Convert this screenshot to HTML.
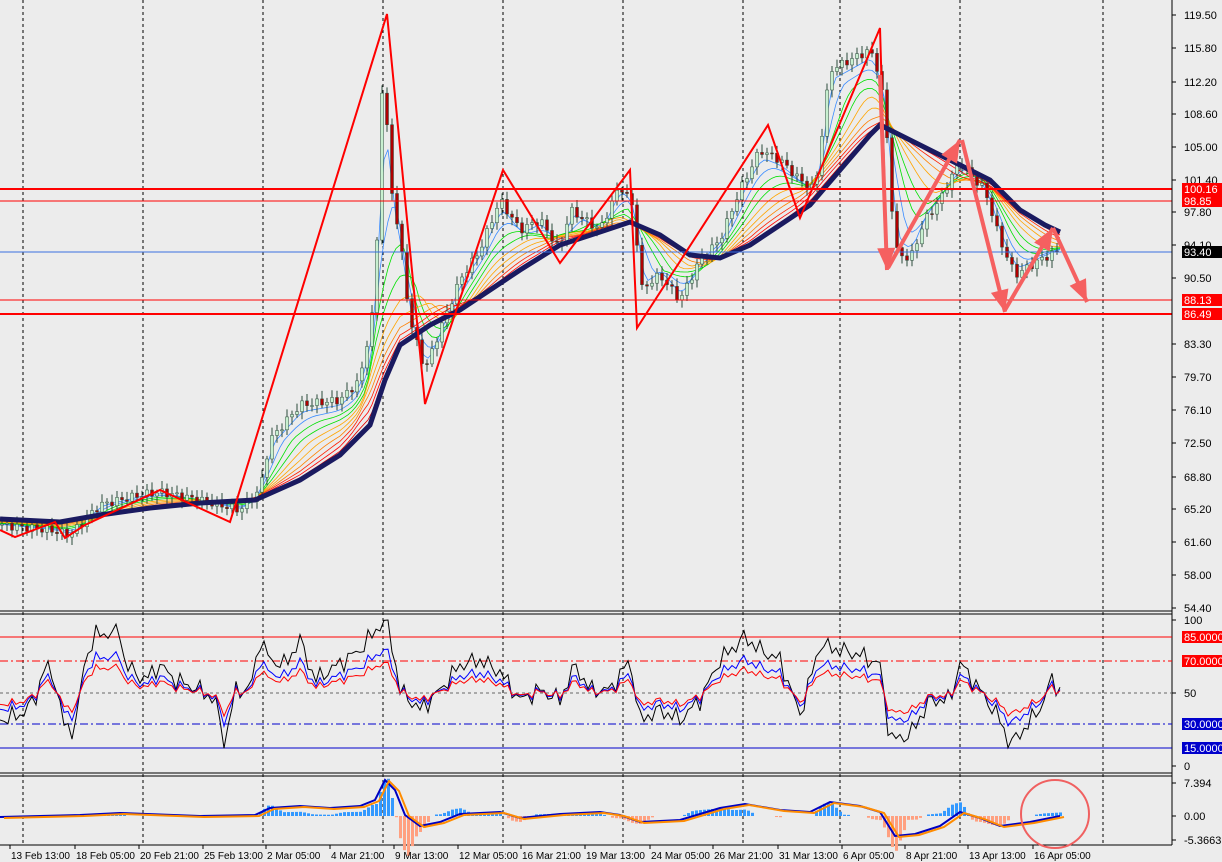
<!DOCTYPE html>
<html><head><meta charset="utf-8"><style>
body{margin:0;background:#ececec;}
svg{display:block;font-family:"Liberation Sans",sans-serif;font-size:11px;}
.d{font-size:10px;}
</style></head><body>
<svg id="s" width="1222" height="862" xmlns="http://www.w3.org/2000/svg">
<rect width="1222" height="862" fill="#ececec"/>
<g stroke="#000" stroke-dasharray="3,3" stroke-width="1">
<line x1="23" y1="0" x2="23" y2="845"/><line x1="143" y1="0" x2="143" y2="845"/><line x1="263" y1="0" x2="263" y2="845"/><line x1="383" y1="0" x2="383" y2="845"/><line x1="503" y1="0" x2="503" y2="845"/><line x1="623" y1="0" x2="623" y2="845"/><line x1="743" y1="0" x2="743" y2="845"/><line x1="840" y1="0" x2="840" y2="845"/><line x1="960" y1="0" x2="960" y2="845"/><line x1="1103" y1="0" x2="1103" y2="845"/>
</g>
<g id="main"></g>
<line x1="0" y1="189" x2="1172" y2="189" stroke="#f00" stroke-width="2"/>
<line x1="0" y1="201" x2="1172" y2="201" stroke="#f00"/>
<line x1="0" y1="252" x2="1172" y2="252" stroke="#3a6fe0"/>
<line x1="0" y1="300" x2="1172" y2="300" stroke="#f00"/>
<line x1="0" y1="314" x2="1172" y2="314" stroke="#f00" stroke-width="2"/>
<g id="zz"></g>
<line x1="0" y1="611" x2="1172" y2="611" stroke="#000"/><line x1="0" y1="614" x2="1172" y2="614" stroke="#000"/>
<line x1="0" y1="773" x2="1172" y2="773" stroke="#000"/><line x1="0" y1="776" x2="1172" y2="776" stroke="#000"/>
<line x1="0" y1="845" x2="1172" y2="845" stroke="#000"/>
<line x1="1172" y1="0" x2="1172" y2="845" stroke="#000"/>
<line x1="0" y1="637" x2="1172" y2="637" stroke="#f00"/>
<line x1="0" y1="661" x2="1172" y2="661" stroke="#f00" stroke-dasharray="8,3,2,3"/>
<line x1="0" y1="693" x2="1172" y2="693" stroke="#666" stroke-dasharray="3,3"/>
<line x1="0" y1="724" x2="1172" y2="724" stroke="#00c" stroke-dasharray="8,3,2,3"/>
<line x1="0" y1="748" x2="1172" y2="748" stroke="#00c"/>
<g id="rsi"></g>
<g id="macd"></g>
<circle cx="1055" cy="814" r="34" fill="none" stroke="#f06060" stroke-width="2"/>
<g id="ax" fill="#000"></g>
</svg>
<script>
const NS="http://www.w3.org/2000/svg";
function el(p,t,a){const e=document.createElementNS(NS,t);for(const k in a)e.setAttribute(k,a[k]);document.getElementById(p).appendChild(e);return e;}
function interp(pts,x){for(let i=0;i<pts.length-1;i++){if(x>=pts[i][0]&&x<=pts[i+1][0]){const t=(x-pts[i][0])/(pts[i+1][0]-pts[i][0]||1);return pts[i][1]+t*(pts[i+1][1]-pts[i][1]);}}return pts[pts.length-1][1];}
const price=[[0,525],[50,530],[70,535],[100,505],[140,495],[160,492],[200,500],[240,510],[260,490],[270,440],[300,405],[340,400],[360,380],[375,300],[383,60],[390,180],[400,240],[410,320],[425,370],[440,330],[460,280],[480,250],[500,200],[520,230],[540,220],[560,250],[570,210],[600,230],[620,185],[635,210],[640,290],[660,275],[680,300],[700,260],[720,240],[740,190],[760,150],[780,160],[800,180],[815,190],[830,70],[850,60],[870,50],[878,70],[885,110],[895,250],[910,260],[925,220],[940,200],[960,160],[970,175],[985,190],[1000,240],[1015,275],[1040,260],[1060,250]];
const ma=[[0,519],[60,522],[100,515],[150,508],[200,503],[255,500],[300,480],[340,455],[370,425],[385,380],[400,345],[430,325],[460,310],[490,290],[520,270],[560,245],[600,232],[630,222],[660,235],[690,255],[720,258],[750,245],[780,225],[810,205],[840,170],[870,135],[880,125],[900,135],[930,150],[960,165],[990,180],[1020,210],[1045,225],[1060,232]];
function smooth(n){const out=[];for(let x=0;x<=1060;x+=4){let s=0,c=0;for(let k=-n;k<=n;k+=2){const xx=Math.min(1060,Math.max(0,x-k*2-n));s+=interp(price,xx);c++;}out.push([x,s/c]);}return out;}
const cols=["#3b8cff","#3b8cff","#00e000","#00e000","#ffa500","#ffa500","#ff8000","#ff2000","#ff0000","#e00000"];
cols.forEach((c,i)=>{const sm=smooth(2+i*3);const w=(i+1)/11;const pts=sm.map(p=>[p[0],p[1]*(1-w)+interp(ma,p[0])*w]);el("main","polyline",{points:pts.map(p=>p.join(",")).join(" "),fill:"none",stroke:c,"stroke-width":0.8});});
let prev=interp(price,0);
for(let x=2;x<=1060;x+=5){const c=interp(price,x)+Math.sin(x*1.7)*4;const o=prev;const hi=Math.min(o,c)-3-Math.abs(Math.sin(x))*5,lo=Math.max(o,c)+3+Math.abs(Math.cos(x))*5;
el("main","line",{x1:x,y1:hi,x2:x,y2:lo,stroke:"#2a4a3a","stroke-width":1});
el("main","rect",{x:x-1.5,y:Math.min(o,c),width:3,height:Math.max(1,Math.abs(o-c)),fill:c<o?"#c8f0d0":"#b00000",stroke:"#2a4a3a","stroke-width":0.5});prev=c;}
el("main","polyline",{points:ma.map(p=>p.join(",")).join(" "),fill:"none",stroke:"#1a1a60","stroke-width":5});
const zz=[[0,530],[15,537],[55,522],[65,538],[85,525],[160,490],[230,522],[387,14],[425,404],[503,170],[560,263],[630,170],[637,328],[768,125],[800,218],[880,28],[887,268]];
el("zz","polyline",{points:zz.map(p=>p.join(",")).join(" "),fill:"none",stroke:"#f00","stroke-width":2});
function arrow(x1,y1,x2,y2){el("zz","line",{x1,y1,x2,y2,stroke:"#f56060","stroke-width":4});const a=Math.atan2(y2-y1,x2-x1),L=22,W=9;const bx=x2-L*Math.cos(a),by=y2-L*Math.sin(a);
el("zz","polygon",{points:`${x2},${y2} ${bx+W*Math.sin(a)},${by-W*Math.cos(a)} ${bx-W*Math.sin(a)},${by+W*Math.cos(a)}`,fill:"#f56060"});}
arrow(880,75,887,270);arrow(888,268,960,140);arrow(962,140,1005,312);arrow(1005,310,1053,228);arrow(1053,228,1087,302);
const rb0=[[0,720],[20,715],[35,700],[45,665],[55,680],[65,730],[75,728],[85,660],[95,635],[120,632],[125,665],[145,680],[160,665],[175,680],[200,690],[215,700],[225,745],[235,690],[250,690],[260,640],[270,660],[285,665],[300,640],[315,680],[330,670],[345,660],[360,650],[380,625],[388,622],[400,690],[420,710],[440,690],[460,665],[480,660],[500,672],[520,700],[540,690],[560,700],[575,665],[590,690],[610,690],[630,660],[640,720],[660,710],[680,720],[700,700],[720,660],[745,637],[760,650],[780,660],[800,715],[820,645],[840,650],[860,655],[880,665],[890,740],[910,735],[930,700],[950,700],[960,663],[980,690],[1000,720],[1010,745],[1030,722],[1045,700],[1050,678],[1060,690]];
const rb=[];for(let x=0;x<=1060;x+=4){rb.push([x,Math.max(620,Math.min(752,interp(rb0,x)+Math.sin(x*0.9)*6+Math.sin(x*0.37)*5))]);}
el("rsi","polyline",{points:rb.map(p=>p.join(",")).join(" "),fill:"none",stroke:"#000","stroke-width":1});
el("rsi","polyline",{points:rb.map(p=>[p[0],693+(p[1]-693)*0.6].join(",")).join(" "),fill:"none",stroke:"#00f","stroke-width":1});
el("rsi","polyline",{points:rb.map(p=>[p[0],693+(p[1]-693)*0.42].join(",")).join(" "),fill:"none",stroke:"#f00","stroke-width":1});
const md=[[0,817],[80,815],[120,813],[200,816],[255,815],[270,808],[300,806],[330,808],[360,806],[375,800],[385,780],[395,790],[405,815],[420,826],[440,822],[460,814],[500,812],[520,818],[560,814],[600,812],[620,815],[640,822],[680,820],[720,808],[745,804],[780,810],[810,812],[830,802],[860,806],[880,812],[895,836],[915,834],[940,826],[960,812],[980,818],[1000,826],[1030,822],[1060,816]];
for(let x=3;x<=1060;x+=4){const v=interp(md,x),v2=interp(md,x-12);const base=816;const h=(v2-v)*1.5+(base-v)*0.3;if(Math.abs(h)>1)el("macd","rect",{x:x,y:Math.min(base,base-h),width:3,height:Math.abs(h),fill:h>0?"#3399ff":"#ffa080"});}
el("macd","polyline",{points:md.map(p=>p.join(",")).join(" "),fill:"none",stroke:"#0000c0","stroke-width":2});
el("macd","polyline",{points:md.map(p=>[p[0]+4,p[1]+1].join(",")).join(" "),fill:"none",stroke:"#ff8c00","stroke-width":2});
const pl=[["119.50",15],["115.80",48],["112.20",82],["108.60",114],["105.00",147],["101.40",180],["97.80",212],["94.10",245],["90.50",278],["83.30",344],["79.70",377],["76.10",410],["72.50",443],["68.80",477],["65.20",509],["61.60",542],["58.00",575],["54.40",608],["100",620],["50",693],["0",766],["7.394",783],["0.00",816],["-5.3663",840]];
pl.forEach(([t,y])=>{el("ax","line",{x1:1172,y1:y,x2:1176,y2:y,stroke:"#000"});const e=el("ax","text",{x:1184,y:y+4});e.textContent=t;});
const tags=[["100.16",189,"#f00","#fff"],["98.85",201,"#f00","#fff"],["93.40",252,"#000","#fff"],["88.13",300,"#f00","#fff"],["86.49",314,"#f00","#fff"],["85.0000",637,"#f00","#fff"],["70.0000",661,"#f00","#fff"],["30.0000",724,"#00c","#fff"],["15.0000",748,"#00c","#fff"]];
tags.forEach(([t,y,bg,fg])=>{el("ax","rect",{x:1182,y:y-6,width:40,height:12,fill:bg});const e=el("ax","text",{x:1184,y:y+4,fill:fg});e.textContent=t;});
const dl=[["13 Feb 13:00",10],["18 Feb 05:00",75],["20 Feb 21:00",139],["25 Feb 13:00",203],["2 Mar 05:00",266],["4 Mar 21:00",330],["9 Mar 13:00",394],["12 Mar 05:00",458],["16 Mar 21:00",521],["19 Mar 13:00",585],["24 Mar 05:00",650],["26 Mar 21:00",713],["31 Mar 13:00",778],["6 Apr 05:00",842],["8 Apr 21:00",905],["13 Apr 13:00",968],["16 Apr 05:00",1033]];
dl.forEach(([t,x])=>{el("ax","line",{x1:x,y1:845,x2:x,y2:849,stroke:"#000"});const e=el("ax","text",{x:x+1,y:859,"class":"d"});e.textContent=t;});
</script>
</body></html>
